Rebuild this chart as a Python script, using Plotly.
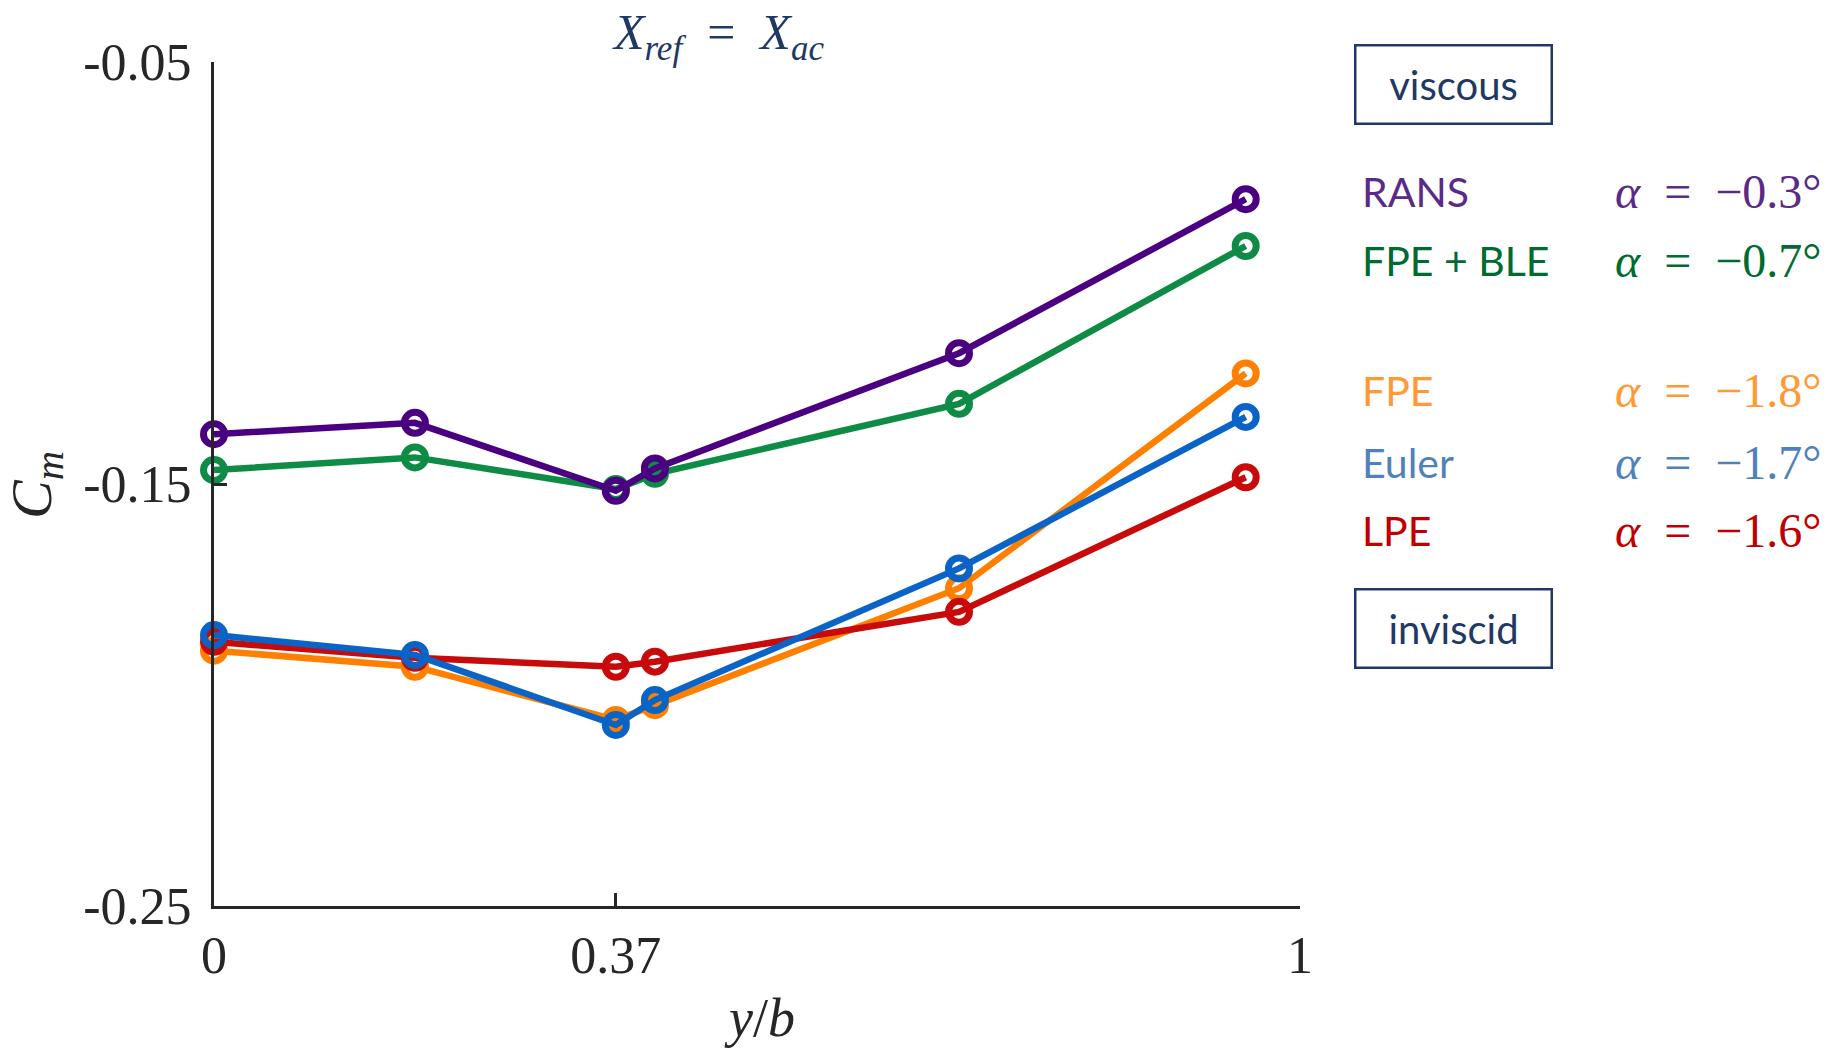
import plotly.graph_objects as go

# spanwise stations
y_over_b = [0.0, 0.185, 0.37, 0.406, 0.686, 0.95]

# pitching-moment coefficient per method
cm_rans = [-0.1382, -0.1355, -0.1516, -0.1463, -0.1190, -0.0825]
cm_fpe_ble = [-0.1467, -0.1437, -0.1512, -0.1476, -0.1310, -0.0936]
cm_fpe = [-0.1895, -0.1933, -0.2059, -0.2024, -0.1747, -0.1238]
cm_lpe = [-0.1874, -0.1912, -0.1933, -0.1921, -0.1803, -0.1484]
cm_euler = [-0.1858, -0.1905, -0.2071, -0.2012, -0.1700, -0.1341]

x_ticks = [0, 0.37, 1]
x_ticktext = ["0", "0.37", "1"]
y_ticks = [-0.25, -0.15, -0.05]
y_ticktext = ["-0.25", "-0.15", "-0.05"]

method_names = ["RANS", "FPE + BLE", "FPE", "Euler", "LPE"]
alpha_labels = ["\u22120.3\u00b0", "\u22120.7\u00b0", "\u22121.8\u00b0", "\u22121.7\u00b0", "\u22121.6\u00b0"]

NAVY = "#1F3864"
AXIS = "#262626"
SP = "\u2002"  # en space around the relation sign

# (values, line colour) in drawing order
series = [
    (cm_fpe_ble, "#0E8C45"),
    (cm_rans, "#4B0082"),
    (cm_fpe, "#FF8000"),
    (cm_lpe, "#C80A0A"),
    (cm_euler, "#0A64C8"),
]

# text colours for the method labels
label_colors = ["#5B2A86", "#006B2E", "#FF9933", "#4F81BD", "#C00000"]
label_y_px = [192, 260, 390, 462, 530]

W, H = 1845, 1053
L, R, T, B = 214, 545, 62, 147
PW, PH = W - L - R, H - T - B


def px_to_paper_x(px):
    return (px - L) / PW


def px_to_paper_y(py):
    return (H - B - py) / PH


fig = go.Figure()
for vals, col in series:
    fig.add_trace(go.Scatter(
        x=y_over_b, y=vals, mode="lines+markers",
        line=dict(color=col, width=6.5),
        marker=dict(symbol="circle-open", size=21, color=col, line=dict(width=7)),
        cliponaxis=False, showlegend=False,
    ))

serif = "Liberation Serif"
sans = "Lato"

annotations = []
# method labels and angle of attack
for name, alpha, col, py in zip(method_names, alpha_labels, label_colors, label_y_px):
    annotations.append(dict(
        x=px_to_paper_x(1360), y=px_to_paper_y(py), xref="paper", yref="paper",
        xanchor="left", yanchor="middle", showarrow=False, text=name,
        font=dict(family=sans, size=41, color=col),
    ))
    annotations.append(dict(
        x=px_to_paper_x(1824), y=px_to_paper_y(py), xref="paper", yref="paper",
        xanchor="right", yanchor="middle", showarrow=False,
        text="<i>\u03b1</i>" + SP + "=" + SP + alpha,
        font=dict(family=serif, size=48, color=col),
    ))

# boxed group headings
for text, py in [("viscous", 84), ("inviscid", 628)]:
    annotations.append(dict(
        x=px_to_paper_x(1453), y=px_to_paper_y(py), xref="paper", yref="paper",
        xanchor="center", yanchor="middle", showarrow=False, text=text,
        font=dict(family=sans, size=40, color=NAVY),
        width=190, height=72, borderpad=2, borderwidth=2.5, bordercolor=NAVY,
        bgcolor="white", align="center", valign="middle",
    ))

# title and axis titles
annotations.append(dict(
    x=px_to_paper_x(718), y=px_to_paper_y(36), xref="paper", yref="paper",
    xanchor="center", yanchor="middle", showarrow=False,
    text="<i>X<sub>ref</sub></i>" + SP + "=" + SP + "<i>X<sub>ac</sub></i>",
    font=dict(family=serif, size=50, color=NAVY),
))
annotations.append(dict(
    x=px_to_paper_x(35), y=px_to_paper_y(485), xref="paper", yref="paper",
    xanchor="center", yanchor="middle", showarrow=False, textangle=-90,
    text="<i>C<sub>m</sub></i>",
    font=dict(family=serif, size=58, color=AXIS),
))
annotations.append(dict(
    x=px_to_paper_x(759), y=px_to_paper_y(1018), xref="paper", yref="paper",
    xanchor="center", yanchor="middle", showarrow=False,
    text="<i>y</i>/<i>b</i>",
    font=dict(family=serif, size=54, color=AXIS),
))

axis_common = dict(
    showgrid=False, zeroline=False, showline=True, linecolor=AXIS, linewidth=3,
    ticks="inside", ticklen=13, tickwidth=3, tickcolor=AXIS,
    tickfont=dict(family=serif, size=52, color=AXIS), mirror=False,
)

fig.update_layout(
    width=W, height=H,
    margin=dict(l=L, r=R, t=T, b=B, pad=0),
    paper_bgcolor="white", plot_bgcolor="white",
    xaxis=dict(range=[0, 1], tickvals=x_ticks, ticktext=x_ticktext,
               ticklabelstandoff=2, **axis_common),
    yaxis=dict(range=[-0.25, -0.05], tickvals=y_ticks, ticktext=y_ticktext,
               ticklabelstandoff=9, **axis_common),
    annotations=annotations,
)

fig.write_html("out.html")
